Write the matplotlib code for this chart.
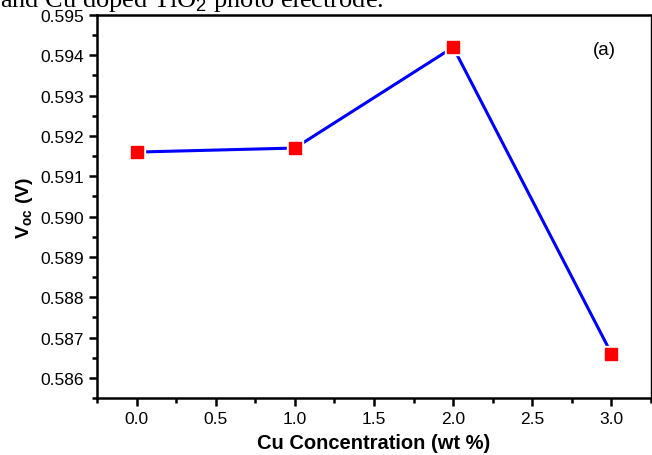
import matplotlib.pyplot as plt
from matplotlib.ticker import MultipleLocator, FormatStrFormatter

plt.rcParams['font.family'] = ['Liberation Sans', 'DejaVu Sans']
plt.rcParams['mathtext.fontset'] = 'custom'
plt.rcParams['mathtext.rm'] = 'Liberation Sans'
plt.rcParams['mathtext.bf'] = 'Liberation Sans:bold'

# Cu loading vs open-circuit voltage
cu_wt = [0.0, 1.0, 2.0, 3.0]
voc = [0.5916, 0.5917, 0.5942, 0.5866]

fig = plt.figure(figsize=(6.52, 4.56), dpi=100)
ax = fig.add_axes([0.1488, 0.125, 0.8497, 0.8399])

ax.plot(cu_wt, voc, color='#0000ff', lw=2.2, zorder=2)
# white squares behind the markers leave a small gap around each point
ax.plot(cu_wt, voc, ls='none', marker='s', ms=12, color='white', zorder=3)
ax.plot(cu_wt, voc, ls='none', marker='s', ms=8.6, color='red', zorder=4)

ax.set_xlim(-0.25, 3.25)
ax.set_ylim(0.5855, 0.595)
ax.xaxis.set_major_locator(MultipleLocator(0.5))
ax.xaxis.set_minor_locator(MultipleLocator(0.25))
ax.yaxis.set_major_locator(MultipleLocator(0.001))
ax.yaxis.set_minor_locator(MultipleLocator(0.0005))
ax.xaxis.set_major_formatter(FormatStrFormatter('%.1f'))
ax.yaxis.set_major_formatter(FormatStrFormatter('%.3f'))

ax.tick_params(which='both', direction='out', width=1.8, top=False, right=False)
ax.tick_params(which='major', length=5.5, labelsize=12.5, pad=4)
ax.tick_params(which='minor', length=3.5)
for side in ['left', 'bottom', 'top']:
    ax.spines[side].set_linewidth(1.8)
ax.spines['right'].set_linewidth(1.0)

ax.set_xlabel('Cu Concentration (wt %)', fontsize=14.5, fontweight='bold', labelpad=5)
ax.set_ylabel(r'$\mathbf{V_{oc}}$ (V)', fontsize=14, fontweight='bold', labelpad=4)

ax.text(0.915, 0.91, '(a)', transform=ax.transAxes, fontsize=13.5, ha='center', va='center')

fig.text(0.0, 1 - 7 / 456, 'and Cu doped TiO$_2$ photo electrode.',
         family=['Liberation Serif', 'DejaVu Serif'], fontsize=19, va='baseline', ha='left')

fig.savefig('out.png', dpi=100)
